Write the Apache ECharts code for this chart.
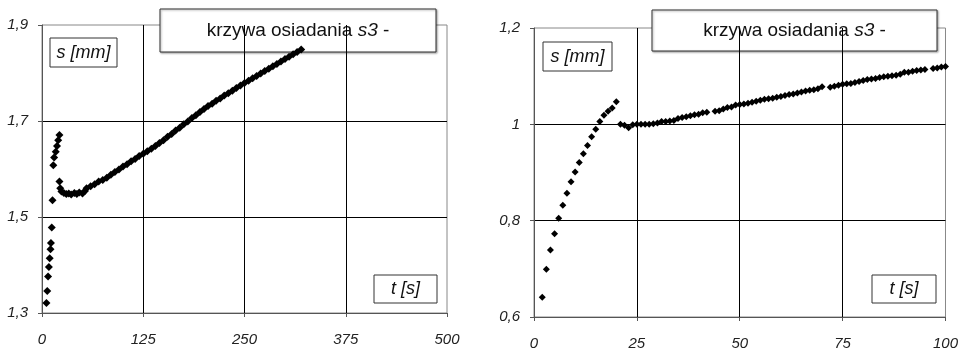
<!DOCTYPE html>
<html>
<head>
<meta charset="utf-8">
<script src="https://cdn.jsdelivr.net/npm/echarts@6/dist/echarts.min.js"></script>
<style>
  html, body { margin: 0; padding: 0; background: #fff; }
  #chart { width: 961px; height: 351px; }
</style>
</head>
<body>
<div id="chart"></div>
<script>
// left chart: t [s] vs s [mm], first seconds then the long curve
const leftT = [5.5, 6.5, 7.5, 8.5, 9.5, 10.5, 11, 12, 13, 14, 15, 17, 18.5, 20, 21.5,
  21.5, 22.5, 24, 27, 30, 33, 36, 40, 43, 46, 50, 53, 55, 60, 65, 70, 75, 80, 85, 90, 95,
  100, 105, 110, 115, 120, 125, 130, 135, 140, 145, 150, 155, 160, 165, 170, 175, 180,
  185, 190, 195, 200, 205, 210, 215, 220, 225, 230, 235, 240, 245, 250, 255, 260, 265,
  270, 275, 280, 285, 290, 295, 300, 305, 310, 315, 320];
const leftS = [1.321, 1.346, 1.376, 1.396, 1.414, 1.433, 1.446, 1.478, 1.535, 1.608, 1.624, 1.636, 1.648, 1.660, 1.671,
  1.574, 1.560, 1.553, 1.550, 1.548, 1.549, 1.547, 1.550, 1.548, 1.551, 1.549, 1.554, 1.560, 1.564, 1.568, 1.574, 1.577, 1.582, 1.588, 1.594, 1.599,
  1.605, 1.610, 1.616, 1.621, 1.627, 1.632, 1.637, 1.642, 1.648, 1.654, 1.660, 1.667, 1.673, 1.680, 1.686, 1.693, 1.699,
  1.706, 1.712, 1.719, 1.725, 1.731, 1.736, 1.742, 1.747, 1.753, 1.758, 1.763, 1.769, 1.774, 1.779, 1.784, 1.789, 1.794,
  1.799, 1.804, 1.809, 1.814, 1.819, 1.824, 1.829, 1.834, 1.839, 1.844, 1.849];

// right chart: first 100 s
const rightT = [2, 3, 4, 5, 6, 7, 8, 9, 10, 11, 12, 13, 14, 15, 16, 17, 18, 19, 20,
  21, 22, 23, 24, 25, 26, 27, 28, 29, 30, 31, 32, 33, 34, 35, 36, 37, 38, 39, 40,
  41, 42, 44, 45, 46, 47, 48, 49, 50, 51, 52, 53, 54, 55, 56, 57, 58, 59, 60,
  61, 62, 63, 64, 65, 66, 67, 68, 69, 70, 72, 73, 74, 75, 76, 77, 78, 79, 80,
  81, 82, 83, 84, 85, 86, 87, 88, 89, 90, 91, 92, 93, 94, 95, 97, 98, 99, 100];
const rightS = [0.641, 0.699, 0.739, 0.773, 0.805, 0.832, 0.857, 0.881, 0.901, 0.921, 0.939, 0.956, 0.974, 0.990, 1.006, 1.019, 1.027, 1.034, 1.047,
  1.000, 0.998, 0.993, 0.999, 1.000, 1.000, 1.000, 1.000, 1.001, 1.003, 1.006, 1.006, 1.007, 1.008, 1.012, 1.014, 1.016, 1.018, 1.020, 1.021,
  1.024, 1.025, 1.027, 1.028, 1.032, 1.035, 1.036, 1.040, 1.041, 1.042, 1.044, 1.046, 1.048, 1.050, 1.052, 1.053, 1.054, 1.056, 1.058,
  1.060, 1.062, 1.063, 1.065, 1.067, 1.069, 1.071, 1.072, 1.074, 1.078, 1.077, 1.079, 1.081, 1.083, 1.084, 1.085, 1.087, 1.089, 1.091,
  1.093, 1.094, 1.095, 1.097, 1.099, 1.100, 1.101, 1.102, 1.104, 1.108, 1.108, 1.110, 1.112, 1.113, 1.114, 1.116, 1.117, 1.119, 1.120];

const titleText = 'krzywa osiadania ';
const yName = 's [mm]';
const xName = 't [s]';

const comma = (v) => String(Math.round(v * 1000) / 1000).replace('.', ',');
const pairs = (xs, ys) => xs.map((x, i) => [x, ys[i]]);

const FONT = '"Liberation Sans", Arial, sans-serif';

function xAxisOpt(idx, max, interval) {
  return {
    type: 'value', gridIndex: idx, min: 0, max: max, interval: interval,
    axisLine: { show: true, lineStyle: { color: '#555', width: 1 } },
    axisTick: { show: true, inside: false, length: 4, lineStyle: { color: '#555' } },
    axisLabel: { fontFamily: FONT, fontStyle: 'italic', fontSize: 15, color: '#222', margin: 19 },
    splitLine: { show: true, showMinLine: false, showMaxLine: false, lineStyle: { color: '#000', width: 1 } }
  };
}
function yAxisOpt(idx, min, max) {
  return {
    type: 'value', gridIndex: idx, min: min, max: max, interval: 0.2,
    axisLine: { show: true, lineStyle: { color: '#555', width: 1 } },
    axisTick: { show: true, inside: false, length: 4, lineStyle: { color: '#555' } },
    axisLabel: { fontFamily: FONT, fontStyle: 'italic', fontSize: 15, color: '#222', margin: 14, formatter: comma },
    splitLine: { show: true, showMinLine: false, showMaxLine: false, lineStyle: { color: '#000', width: 1 } }
  };
}

function box(x, y, w, h, text, size, shadow) {
  return {
    type: 'group', z: 100,
    children: [
      { type: 'rect', shape: { x: x, y: y, width: w, height: h },
        style: { fill: '#fff', stroke: '#333', lineWidth: 1,
          shadowBlur: shadow ? 2 : 0, shadowOffsetX: shadow ? 1 : 0, shadowOffsetY: shadow ? 1 : 0, shadowColor: 'rgba(0,0,0,0.35)' } },
      { type: 'text', x: x + w / 2, y: y + h / 2,
        style: { text: text, fontFamily: FONT, fontSize: size, fill: '#111', align: 'center', verticalAlign: 'middle',
          rich: {
            n: { fontFamily: FONT, fontSize: size, fill: '#111' },
            i: { fontFamily: FONT, fontSize: size, fontStyle: 'italic', fill: '#111' }
          } } }
    ]
  };
}

const chart = echarts.init(document.getElementById('chart'), null, { renderer: 'canvas' });
chart.setOption({
  backgroundColor: '#fff',
  animation: false,
  grid: [
    { left: 42, right: 514, top: 25, bottom: 38, show: true, borderColor: '#888', borderWidth: 1, backgroundColor: 'transparent' },
    { left: 534, right: 13, top: 28, bottom: 33, show: true, borderColor: '#888', borderWidth: 1, backgroundColor: 'transparent' }
  ],
  xAxis: [xAxisOpt(0, 500, 125), xAxisOpt(1, 100, 25)],
  yAxis: [yAxisOpt(0, 1.3, 1.9), yAxisOpt(1, 0.6, 1.2)],
  series: [
    { type: 'scatter', xAxisIndex: 0, yAxisIndex: 0, data: pairs(leftT, leftS),
      symbol: 'diamond', symbolSize: 8, itemStyle: { color: '#000', opacity: 1 } },
    { type: 'scatter', xAxisIndex: 1, yAxisIndex: 1, data: pairs(rightT, rightS),
      symbol: 'diamond', symbolSize: 7, itemStyle: { color: '#000', opacity: 1 } }
  ],
  graphic: [
    box(160, 9, 276, 43, '{n|' + titleText + '}{i|s3}{n| -}', 19, true),
    box(652, 10, 285, 41, '{n|' + titleText + '}{i|s3}{n| -}', 19, true),
    box(50, 38, 67, 29, '{i|' + yName + '}', 18, false),
    box(543, 42, 69, 29, '{i|' + yName + '}', 18, false),
    box(374, 275, 63, 28, '{i|' + xName + '}', 18, false),
    box(872, 275, 64, 28, '{i|' + xName + '}', 18, false)
  ]
});
</script>
</body>
</html>
